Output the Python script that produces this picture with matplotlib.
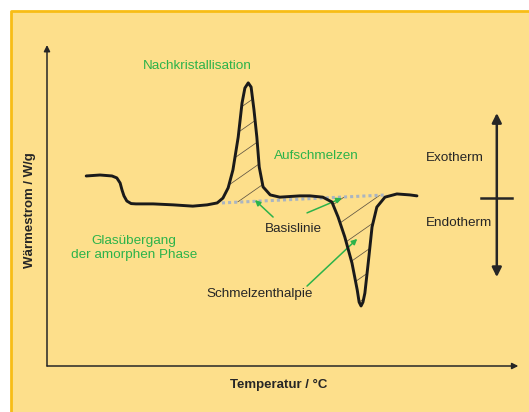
import numpy as np
import matplotlib.pyplot as plt
from matplotlib.patches import Rectangle

plt.rcParams['font.family'] = ['Liberation Sans', 'DejaVu Sans']

# DSC curve (schematic): temperature vs. heat flow, arbitrary units
temperature = [8.2, 11.1, 13.6, 14.6, 15.3, 15.7, 16.1, 16.7, 17.6, 18.6, 22.2, 26.4, 30.5, 33.5,
               35.6, 36.8, 37.9, 38.9, 40.0, 40.8, 41.4, 42.1, 42.7, 43.3, 43.9, 44.4, 45.2, 46.7,
               48.7, 52.9, 55.0, 57.7, 59.6, 60.9, 62.3, 63.8, 64.9, 65.3, 65.7, 66.1, 66.5, 67.2,
               68.0, 69.0, 70.7, 73.2, 75.9, 77.4]
heat_flow = [59.2, 59.5, 59.2, 58.6, 57.0, 54.8, 53.0, 51.4, 50.6, 50.5, 50.5, 50.2, 49.8, 50.2,
             50.8, 52.3, 55.5, 61.1, 71.3, 81.9, 86.6, 88.2, 86.9, 79.8, 71.3, 62.0, 55.8, 53.3,
             52.6, 53.0, 53.0, 52.6, 51.1, 46.4, 40.2, 32.1, 23.7, 19.9, 18.7, 19.9, 22.7, 32.1,
             43.3, 49.5, 52.6, 53.6, 53.3, 53.0]
baseline_t = [36.6, 71.1]
baseline_q = [50.8, 53.3]
peak_range = (36.6, 45.6)
melt_range = (58.0, 71.1)

yellow = '#fddf8b'
gold = '#f8bd16'
green = '#2cb34a'
dark = '#262626'
fs = 9.7

fig = plt.figure(figsize=(5.29, 4.12), dpi=100)
fig.patch.set_facecolor('white')
bg = fig.add_axes([0, 0, 1, 1], zorder=-10)
bg.set_xlim(0, 529)
bg.set_ylim(412, 0)
bg.axis('off')
bg.add_patch(Rectangle((11, 11), 530, 410, facecolor=yellow, edgecolor='none'))
bg.plot([11, 11, 529], [412, 11, 11], color=gold, lw=2)

ax = fig.add_axes([47 / 529, 46 / 412, 478 / 529, 321 / 412])
ax.set_xlim(0, 100)
ax.set_ylim(0, 100)
ax.axis('off')

# axes with arrow heads
ax.annotate('', xy=(0, 100), xytext=(0, 0),
            arrowprops=dict(arrowstyle='-|>', color=dark, lw=1.1, mutation_scale=9, shrinkA=0, shrinkB=0))
ax.annotate('', xy=(98.6, 0), xytext=(0, 0),
            arrowprops=dict(arrowstyle='-|>', color=dark, lw=1.1, mutation_scale=9, shrinkA=0, shrinkB=0))

t = np.array(temperature)
q = np.array(heat_flow)

# hatched areas between curve and baseline
for lo, hi in (peak_range, melt_range):
    m = (t >= lo) & (t <= hi)
    xs = np.concatenate([[lo], t[m], [hi]])
    ys = np.concatenate([[np.interp(lo, t, q)], q[m], [np.interp(hi, t, q)]])
    bx = np.array([hi, lo])
    by = np.interp(bx, baseline_t, baseline_q)
    poly = ax.fill(np.concatenate([xs, bx]), np.concatenate([ys, by]),
                   facecolor='none', edgecolor='none')[0]
    for c in np.arange(-120, 60, 7.2):
        hx = np.array([lo, hi])
        hl, = ax.plot(hx, c + 1.04 * hx, color='#5f5442', lw=0.55, zorder=2)
        hl.set_clip_path(poly)

ax.plot(baseline_t, baseline_q, color='#aab5c2', lw=2.2, ls=(0, (1, 1)), zorder=3)
ax.plot(t, q, color='#1a1a1a', lw=2.1, solid_capstyle='round', solid_joinstyle='round', zorder=4)

# labels
ax.text(31.4, 93.5, 'Nachkristallisation', color=green, fontsize=fs, ha='center', va='center')
ax.text(56.3, 65.4, 'Aufschmelzen', color=green, fontsize=fs, ha='center', va='center')
ax.text(18.2, 36.8, 'Glasübergang\nder amorphen Phase', color=green, fontsize=fs,
        ha='center', va='center', linespacing=1.25)
ax.text(51.5, 42.7, 'Basislinie', color=dark, fontsize=fs, ha='center', va='center')
ax.text(44.4, 22.4, 'Schmelzenthalpie', color=dark, fontsize=fs, ha='center', va='center')
ax.text(79.3, 64.8, 'Exotherm', color=dark, fontsize=fs, ha='left', va='center')
ax.text(79.3, 44.5, 'Endotherm', color=dark, fontsize=fs, ha='left', va='center')
ax.text(-3.6, 48.6, 'Wärmestrom / W/g', color=dark, fontsize=9.5, fontweight='bold',
        rotation=90, ha='center', va='center', clip_on=False)
ax.text(48.5, -5.9, 'Temperatur / °C', color=dark, fontsize=9.5, fontweight='bold',
        ha='center', va='center', clip_on=False)

# green pointers
green_arrows = [((47.3, 46.4), (43.5, 51.7)), ((54.4, 47.7), (61.7, 52.3)), ((54.4, 24.9), (64.9, 39.6))]
for tail, head in green_arrows:
    ax.annotate('', xy=head, xytext=tail,
                arrowprops=dict(arrowstyle='-|>', color=green, lw=1.1, mutation_scale=8,
                                shrinkA=0, shrinkB=0))

# exo / endo direction
ax.annotate('', xy=(94.1, 78.8), xytext=(94.1, 27.7),
            arrowprops=dict(arrowstyle='<|-|>', color=dark, lw=1.8, mutation_scale=14,
                            shrinkA=0, shrinkB=0))
ax.plot([90.8, 97.3], [52.3, 52.3], color=dark, lw=1.8)

fig.savefig('out.png', dpi=100)
